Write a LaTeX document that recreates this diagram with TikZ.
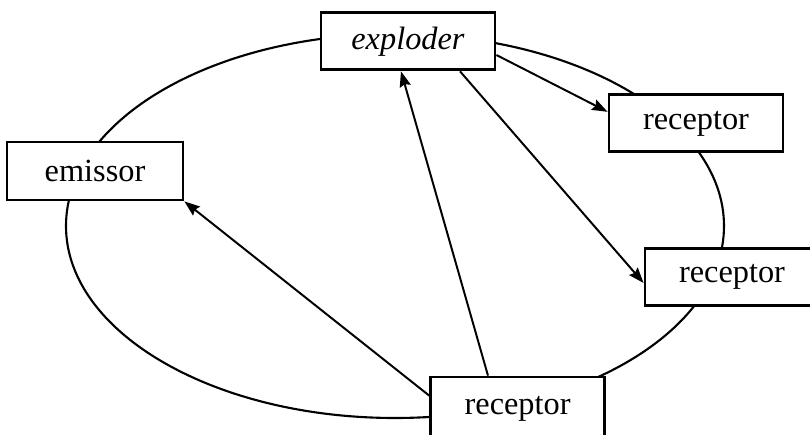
\documentclass[tikz,border=0pt]{standalone}
\usepackage{fontspec}
\setmainfont{Liberation Serif}
\usepackage{tikz}
\usetikzlibrary{positioning,arrows.meta}
\tikzset{%
  arr/.style = {-{Stealth[length=11pt,width=8pt,inset=1.5pt]},line width=1.4pt},
  r/.style = {rectangle,draw,solid,fill=white,line width=2pt,
        minimum width=4.35cm,minimum height=1.425cm,inner sep=0pt}
}

\begin{document}
\begin{tikzpicture}[font=\fontsize{23}{27}\selectfont]
\useasboundingbox (0,0) rectangle (20.25,10.875);
\clip (0,0) rectangle (20.25,10.875);
\coordinate (c) at (9.875,5.225);
\draw[line width=1.5pt] (c) ellipse [x radius=8.225, y radius=4.8];

\node[r] (exploder) at (10.2,9.84) {\textit{exploder}};
\node[r] (recA) at (17.4,7.79) {receptor};
\node[r,minimum width=4.4cm,minimum height=1.45cm] (emissor) at (2.375,6.6) {emissor};
\node[r] (recB) at (18.3,3.96) {receptor};
\node[r,minimum height=1.6cm] (recC) at (12.94,0.65) {receptor};

\draw[arr] ([xshift=-0.74cm]recC.north) -- ([xshift=-0.175cm]exploder.south);
\draw[arr] ([yshift=-0.5cm]recC.north west) -- (emissor.south east);
\draw[arr] ([yshift=-0.34cm]exploder.east) -- ([yshift=0.29cm]recA.west);
\draw[arr] ([xshift=1.3cm]exploder.south) -- ([yshift=-0.16cm]recB.west);
\end{tikzpicture}
\end{document}
